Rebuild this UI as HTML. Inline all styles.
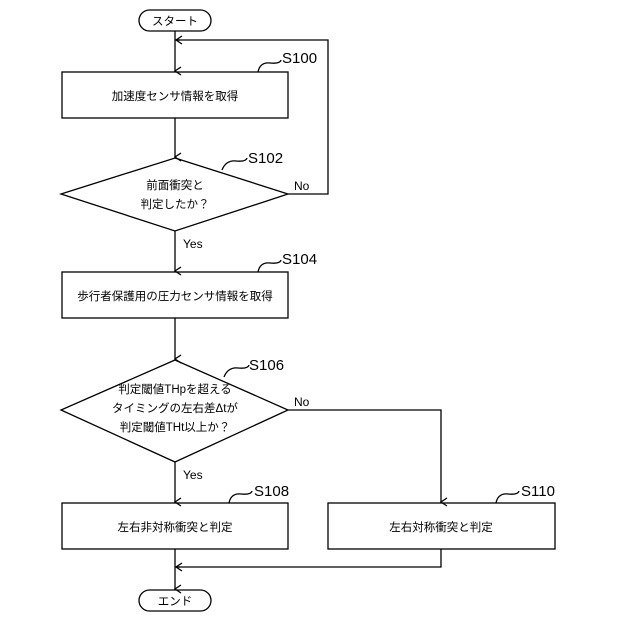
<!DOCTYPE html>
<html><head><meta charset="utf-8"><style>
html,body{margin:0;padding:0;background:#fff;width:640px;height:640px;overflow:hidden}
svg text{font-family:"Liberation Sans","Noto Sans CJK JP",sans-serif;fill:#000}
</style></head><body>
<svg width="640" height="640" viewBox="0 0 640 640" xmlns="http://www.w3.org/2000/svg">
<defs><marker id="a" markerWidth="10" markerHeight="10" refX="5" refY="9" orient="auto" markerUnits="userSpaceOnUse" viewBox="0 0 10 10"><path d="M1,3 L5,9 L9,3" fill="none" stroke="#000" stroke-width="1.3"/></marker>
<marker id="l" markerWidth="10" markerHeight="10" refX="1" refY="5" orient="0" markerUnits="userSpaceOnUse" viewBox="0 0 10 10"><path d="M7,1 L1,5 L7,9" fill="none" stroke="#000" stroke-width="1.3"/></marker></defs>
<g fill="none" stroke="#000" stroke-width="1.3">
<rect x="139" y="10" width="72" height="21" rx="10.5"/>
<rect x="139" y="590" width="72" height="21" rx="10.5"/>
<rect x="62" y="72" width="226" height="46"/>
<rect x="62" y="272" width="226" height="46"/>
<rect x="62" y="503" width="226" height="46"/>
<rect x="328" y="503" width="227" height="46"/>
<path d="M175,158 L288,194 L175,231 L61,194 Z"/>
<path d="M175,360 L288,410 L175,462 L61,410 Z"/>
<line x1="175" y1="31" x2="175" y2="71" marker-end="url(#a)"/>
<path d="M288,194 H328 V40 H176"/>
<line x1="176" y1="40" x2="180" y2="40" marker-start="url(#l)"/>
<line x1="175" y1="118" x2="175" y2="157" marker-end="url(#a)"/>
<line x1="175" y1="231" x2="175" y2="271" marker-end="url(#a)"/>
<line x1="175" y1="318" x2="175" y2="359" marker-end="url(#a)"/>
<line x1="175" y1="462" x2="175" y2="502" marker-end="url(#a)"/>
<path d="M288,410 H441 V502" marker-end="url(#a)"/>
<path d="M441,549 V567 H176"/>
<line x1="176" y1="567" x2="180" y2="567" marker-start="url(#l)"/>
<line x1="175" y1="549" x2="175" y2="589" marker-end="url(#a)"/>
<path d="M258,72 Q260,62 270,63 T281,60"/>
<path d="M222,170 Q226,160 236,161 T247,158"/>
<path d="M258,272 Q260,262 270,263 T281,260"/>
<path d="M224,377 Q228,367 238,368 T249,365"/>
<path d="M229,503 Q231,493 241,494 T252,491"/>
<path d="M496,503 Q498,493 508,494 T519,491"/>
</g>
<g font-size="11.5" text-anchor="middle">
<text x="175" y="25">スタート</text>
<text x="175" y="605">エンド</text>
<text x="175" y="100">加速度センサ情報を取得</text>
<text x="175" y="189">前面衝突と</text>
<text x="175" y="208">判定したか？</text>
<text x="175" y="300">歩行者保護用の圧力センサ情報を取得</text>
<text x="175" y="393">判定閾値THpを超える</text>
<text x="175" y="412">タイミングの左右差Δtが</text>
<text x="175" y="431">判定閾値THt以上か？</text>
<text x="175" y="531">左右非対称衝突と判定</text>
<text x="441" y="531">左右対称衝突と判定</text>
</g>
<g font-size="12">
<text x="294" y="190">No</text>
<text x="294" y="406">No</text>
<text x="183" y="248">Yes</text>
<text x="183" y="479">Yes</text>
</g>
<g font-size="15">
<text x="282" y="63">S100</text>
<text x="248" y="163">S102</text>
<text x="282" y="264">S104</text>
<text x="249" y="370">S106</text>
<text x="254" y="496">S108</text>
<text x="521" y="496">S110</text>
</g>
</svg>
</body></html>
